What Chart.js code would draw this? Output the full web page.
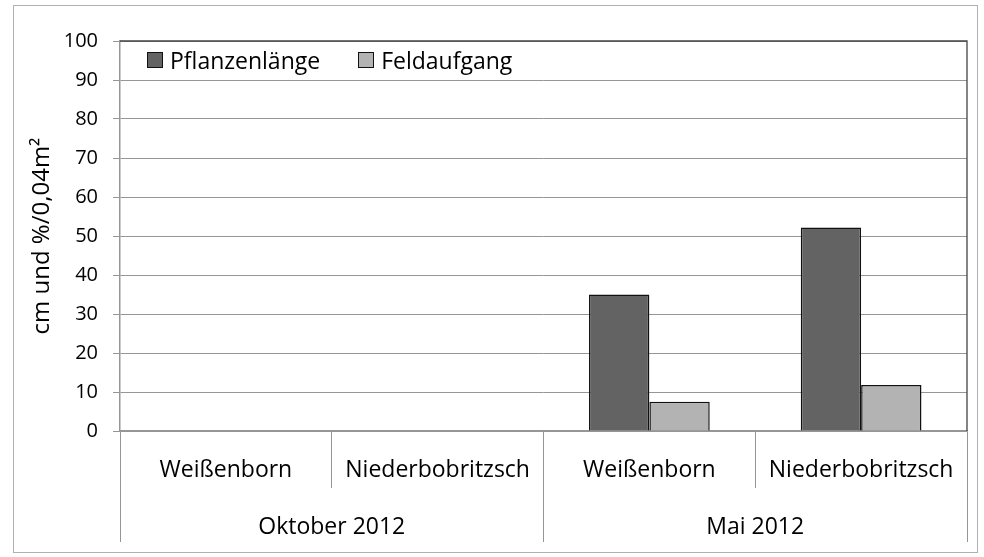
<!DOCTYPE html>
<html>
  <head>
    <meta charset="utf-8" />
    <title>Pflanzenlänge und Feldaufgang</title>
    <script src="https://cdn.jsdelivr.net/npm/chart.js@4"></script>
    <style>
      html, body { margin: 0; padding: 0; background: #fff; }
      #wrap { width: 984px; height: 557px; position: relative; }
      #legend {
        position: absolute; left: 147px; top: 47px;
        display: flex; gap: 38px;
        font-family: 'Open Sans', sans-serif; font-size: 23px; color: #000;
      }
      #legend .item { display: flex; align-items: center; height: 26px; }
      #legend .box {
        width: 14px; height: 14px; border: 1px solid #111; margin-right: 7px;
      }
    </style>
  </head>
  <body>
    <div id="wrap">
      <canvas id="chart" width="984" height="557"></canvas>
      <div id="legend"></div>
    </div>
    <script>
      const categories = ["Weißenborn", "Niederbobritzsch", "Weißenborn", "Niederbobritzsch"];
      const groups = ["Oktober 2012", "Mai 2012"];
      const pflanzenlaenge = [null, null, 35, 52.2];
      const feldaufgang = [null, null, 7.5, 11.8];
      const yTicks = [0, 10, 20, 30, 40, 50, 60, 70, 80, 90, 100];

      const FONT = "'Open Sans', sans-serif";
      const gridGrey = "#969696";

      // outer frame and the dark top/right edge of the plot area
      const framePlugin = {
        id: "frame",
        afterDraw(chart) {
          const ctx = chart.ctx;
          const a = chart.chartArea;
          ctx.save();
          ctx.strokeStyle = "#b0b0b0";
          ctx.lineWidth = 1;
          ctx.strokeRect(13.5, 5.5, 964, 547);
          ctx.strokeStyle = "#444";
          ctx.lineWidth = 1.3;
          ctx.beginPath();
          ctx.moveTo(a.left, a.top);
          ctx.lineTo(a.right, a.top);
          ctx.lineTo(a.right, a.bottom);
          ctx.stroke();
          ctx.restore();
        },
      };

      const chart = new Chart(document.getElementById("chart"), {
        type: "bar",
        data: {
          labels: categories,
          datasets: [
            {
              label: "Pflanzenlänge",
              data: pflanzenlaenge,
              backgroundColor: "#636363",
              borderColor: "#111",
              borderWidth: 1.5,
            },
            {
              label: "Feldaufgang",
              data: feldaufgang,
              backgroundColor: "#b3b3b3",
              borderColor: "#111",
              borderWidth: 1.5,
            },
          ],
        },
        options: {
          responsive: false,
          animation: false,
          events: [],
          categoryPercentage: 0.57,
          barPercentage: 1,
          layout: { padding: { left: 0, right: 17, top: 41, bottom: 15 } },
          plugins: {
            tooltip: { enabled: false },
            legend: { display: false },
          },
          scales: {
            x: {
              type: "category",
              position: "bottom",
              weight: 0,
              offset: true,
              grid: {
                offset: true,
                drawOnChartArea: false,
                color: gridGrey,
                tickLength: 57,
              },
              border: { color: gridGrey, width: 1.5 },
              ticks: {
                color: "#000",
                font: { family: FONT, size: 23 },
                padding: -31,
                maxRotation: 0,
                autoSkip: false,
              },
              afterFit(scale) { scale.height = 57; },
            },
            x2: {
              type: "category",
              position: "bottom",
              weight: 1,
              labels: groups,
              offset: true,
              grid: {
                offset: true,
                drawOnChartArea: false,
                color: gridGrey,
                tickLength: 54,
              },
              border: { display: false },
              ticks: {
                color: "#000",
                font: { family: FONT, size: 23 },
                padding: -28,
                maxRotation: 0,
              },
              afterFit(scale) { scale.height = 54; },
            },
            y: {
              min: 0,
              max: 100,
              afterBuildTicks(scale) {
                scale.ticks = yTicks.map((v) => ({ value: v }));
              },
              grid: {
                color: gridGrey,
                tickLength: 7,
              },
              border: { color: gridGrey, width: 1.5 },
              ticks: {
                color: "#000",
                font: { family: FONT, size: 20 },
                padding: 15,
              },
              title: {
                display: true,
                text: "cm und %/0,04m²",
                color: "#000",
                font: { family: FONT, size: 24 },
                padding: { top: 28, bottom: 0 },
              },
              afterFit(scale) { scale.width = 120; },
            },
          },
        },
        plugins: [framePlugin],
      });

      // legend built from the chart's own datasets
      const legend = document.getElementById("legend");
      chart.data.datasets.forEach((ds) => {
        const item = document.createElement("div");
        item.className = "item";
        const box = document.createElement("span");
        box.className = "box";
        box.style.background = ds.backgroundColor;
        item.appendChild(box);
        item.appendChild(document.createTextNode(ds.label));
        legend.appendChild(item);
      });
    </script>
  </body>
</html>
